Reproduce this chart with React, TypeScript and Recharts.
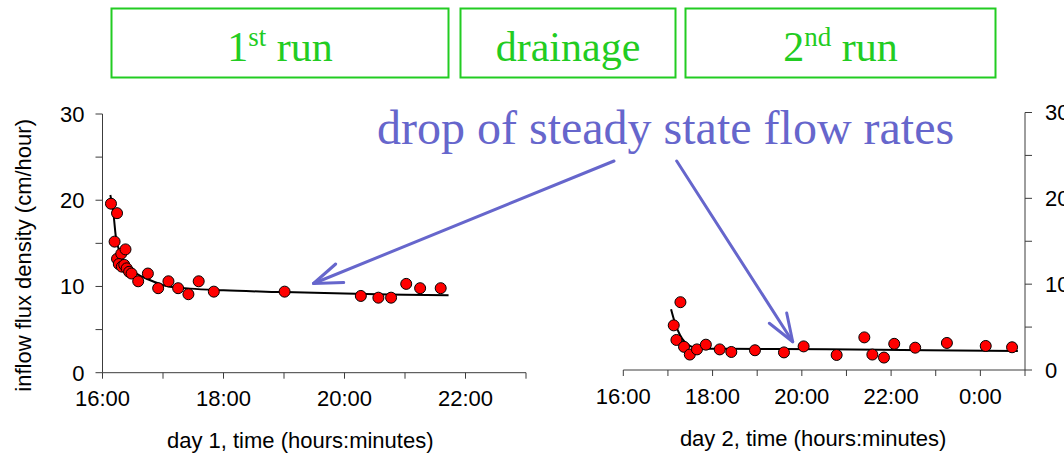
import { ComposedChart, Scatter, XAxis, YAxis } from "recharts";

// day 1 (1st run) measured points
const day1PointTimes = [16.14, 16.24, 16.2, 16.24, 16.31, 16.38, 16.27, 16.32, 16.36, 16.4, 16.44, 16.48, 16.59, 16.75, 16.92, 17.09, 17.25, 17.42, 17.59, 17.84, 19.01, 20.27, 20.56, 20.77, 21.02, 21.25, 21.59];
const day1PointFlux = [19.6, 18.5, 15.2, 13.2, 13.8, 14.3, 12.6, 12.3, 12.5, 12.1, 11.7, 11.5, 10.6, 11.5, 9.8, 10.6, 9.8, 9.1, 10.6, 9.4, 9.4, 8.9, 8.7, 8.7, 10.3, 9.8, 9.8];

// day 1 fitted curve
const day1CurveTimes = [16.13, 16.18, 16.22, 16.29, 16.4, 16.56, 16.78, 17.06, 17.45, 18.0, 19.0, 20.0, 21.0, 21.72];
const day1CurveFlux = [20.6, 18.5, 15.8, 13.9, 12.5, 11.5, 10.75, 10.05, 9.75, 9.55, 9.35, 9.17, 9.05, 8.98];

// day 2 (2nd run) measured points
const day2PointTimes = [17.13, 17.28, 17.19, 17.36, 17.49, 17.65, 17.85, 18.16, 18.42, 18.95, 19.6, 20.04, 20.78, 21.4, 21.58, 21.84, 22.07, 22.54, 23.25, 24.12, 24.71];
const day2PointFlux = [5.2, 7.9, 3.5, 2.7, 1.8, 2.4, 2.95, 2.4, 2.1, 2.3, 2.05, 2.75, 1.75, 3.8, 1.8, 1.45, 3.05, 2.6, 3.15, 2.8, 2.65];

// day 2 fitted curve
const day2CurveTimes = [17.07, 17.16, 17.27, 17.38, 17.49, 17.64, 17.87, 18.3, 20.55, 22.8, 24.84];
const day2CurveFlux = [7.07, 5.44, 4.08, 3.23, 2.8, 2.57, 2.49, 2.47, 2.41, 2.29, 2.22];

const day1Ticks = [16, 17, 18, 19, 20, 21, 22, 23];
const day2Ticks = [16, 17, 18, 19, 20, 21, 22, 23, 24, 25];
const fluxTicks = [0, 5, 10, 15, 20, 25, 30];

const zip = (ts: number[], vs: number[]) => ts.map((t, i) => ({ t, v: vs[i] }));

const SANS = "'Liberation Sans', Arial, sans-serif";
const SERIF = "'Liberation Serif', 'Times New Roman', serif";
const AXIS = "#3c3c3c";
const BLUE = "#6666cc";
const GREEN = "#22cc22";

const hourLabel = (h: number) => (h % 2 === 0 ? `${h % 24}:00` : "");
const fluxLabel = (v: number) => (v % 10 === 0 ? String(v) : "");

const Dot = (p: any) => (
  <circle cx={p.cx} cy={p.cy} r={5.5} fill="#ff0000" stroke="#000" strokeWidth={1} />
);
const NoDot = () => <g />;

const tickStyle = { fill: "#000", fontSize: 22, fontFamily: SANS };

export default function App() {
  return (
    <div style={{ position: "absolute", left: 0, top: 0, width: 1064, height: 454, overflow: "hidden", background: "#fff" }}>
      <div style={{ position: "absolute", left: 0, top: 0 }}>
        <ComposedChart width={560} height={454} margin={{ top: 114, right: 34, bottom: 0, left: 0 }}>
          <XAxis
            type="number"
            dataKey="t"
            domain={[16, 23]}
            ticks={day1Ticks}
            tickFormatter={hourLabel}
            interval={0}
            height={81.3}
            tickSize={6}
            tickMargin={12}
            axisLine={{ stroke: AXIS }}
            tickLine={{ stroke: AXIS }}
            tick={tickStyle}
            label={{ value: "day 1, time (hours:minutes)", position: "center", dx: -14, dy: 27, fill: "#000", fontSize: 22, fontFamily: SANS }}
          />
          <YAxis
            type="number"
            dataKey="v"
            domain={[0, 30]}
            ticks={fluxTicks}
            tickFormatter={fluxLabel}
            interval={0}
            width={102.5}
            tickSize={7}
            tickMargin={11}
            axisLine={{ stroke: AXIS }}
            tickLine={{ stroke: AXIS }}
            tick={tickStyle}
            label={{ value: "inflow flux density (cm/hour)", angle: -90, position: "center", dx: -28, dy: 12, fill: "#000", fontSize: 22, fontFamily: SANS }}
          />
          <Scatter data={zip(day1CurveTimes, day1CurveFlux)} line={{ stroke: "#000", strokeWidth: 2 }} lineJointType="monotoneX" shape={NoDot} isAnimationActive={false} />
          <Scatter data={zip(day1PointTimes, day1PointFlux)} shape={Dot} isAnimationActive={false} />
        </ComposedChart>
      </div>

      <div style={{ position: "absolute", left: 560, top: 0 }}>
        <ComposedChart width={504} height={454} margin={{ top: 112.5, right: 0, bottom: 0, left: 63.3 }}>
          <XAxis
            type="number"
            dataKey="t"
            domain={[16, 25]}
            ticks={day2Ticks}
            tickFormatter={hourLabel}
            interval={0}
            height={84}
            tickSize={6}
            tickMargin={12}
            axisLine={{ stroke: AXIS }}
            tickLine={{ stroke: AXIS }}
            tick={tickStyle}
            label={{ value: "day 2, time (hours:minutes)", position: "center", dx: -11, dy: 26, fill: "#000", fontSize: 22, fontFamily: SANS }}
          />
          <YAxis
            type="number"
            dataKey="v"
            orientation="right"
            domain={[0, 30]}
            ticks={fluxTicks}
            tickFormatter={fluxLabel}
            interval={0}
            width={39}
            tickSize={7}
            tickMargin={13}
            axisLine={{ stroke: AXIS }}
            tickLine={{ stroke: AXIS }}
            tick={tickStyle}
          />
          <Scatter data={zip(day2CurveTimes, day2CurveFlux)} line={{ stroke: "#000", strokeWidth: 2 }} lineJointType="monotoneX" shape={NoDot} isAnimationActive={false} />
          <Scatter data={zip(day2PointTimes, day2PointFlux)} shape={Dot} isAnimationActive={false} />
        </ComposedChart>
      </div>

      {/* annotations: phase boxes, caption and arrows */}
      <svg width={1064} height={454} style={{ position: "absolute", left: 0, top: 0, pointerEvents: "none" }}>
        <g fill="#fff" stroke={GREEN} strokeWidth={2}>
          <rect x={111.5} y={8.5} width={337} height={69} />
          <rect x={460.5} y={8.5} width={215} height={69} />
          <rect x={685.5} y={8.5} width={310} height={69} />
        </g>
        <g fill={GREEN} fontFamily={SERIF} fontSize={42} textAnchor="middle">
          <text x={280} y={61}>
            1<tspan fontSize={27} dy={-15}>st</tspan>
            <tspan dy={15}> run</tspan>
          </text>
          <text x={568} y={61}>drainage</text>
          <text x={840.5} y={61}>
            2<tspan fontSize={27} dy={-15}>nd</tspan>
            <tspan dy={15}> run</tspan>
          </text>
        </g>
        <text x={377} y={144} fill={BLUE} fontFamily={SERIF} fontSize={48}>
          drop of steady state flow rates
        </text>
        <g stroke={BLUE} strokeWidth={3} fill="none" strokeLinecap="round" strokeLinejoin="round">
          <line x1={614} y1={161} x2={313.5} y2={283.5} />
          <polyline points="335.7,264 313.5,283.5 343.7,282.5" />
          <line x1={676.7} y1={161} x2={792.7} y2={341.7} />
          <polyline points="769.3,323.3 792.7,341.7 786.7,313" />
        </g>
      </svg>
    </div>
  );
}
